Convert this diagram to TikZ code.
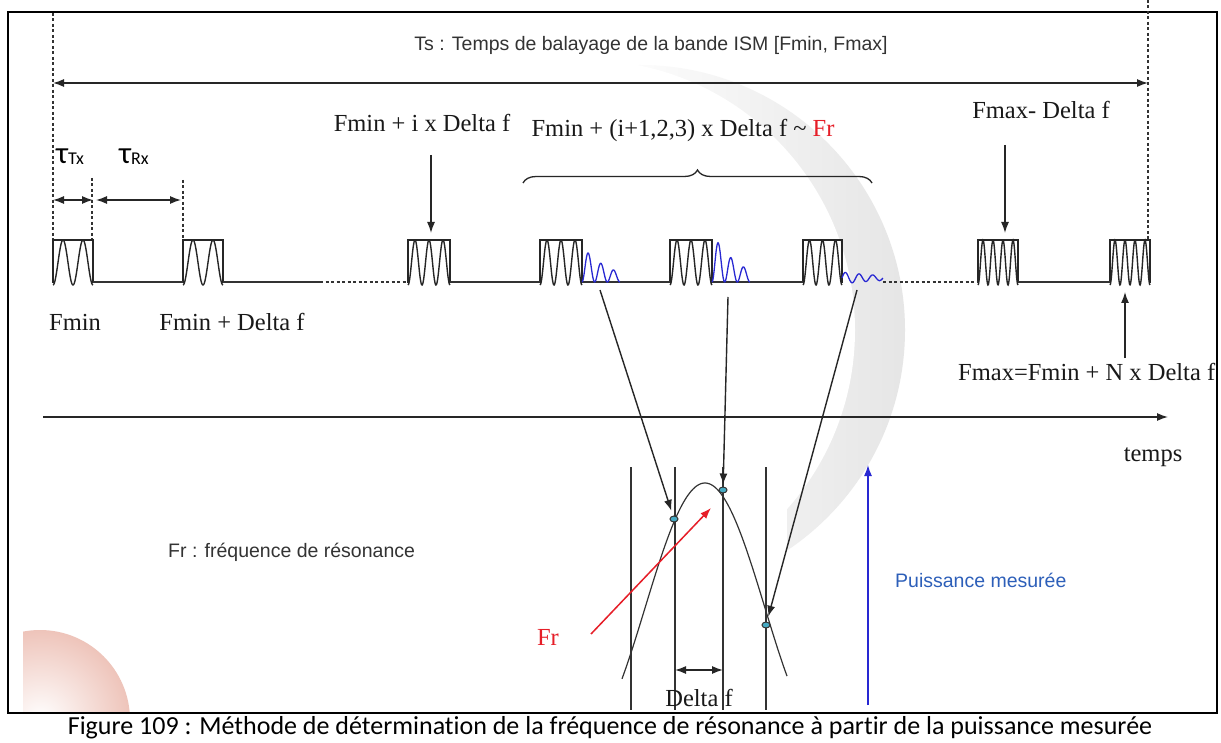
\documentclass[tikz,border=0pt]{standalone}
\usepackage{fontspec}
\setmainfont{Liberation Serif}
\newfontfamily\arialf{Liberation Sans}
\newfontfamily\calib[Ligatures=NoCommon]{Carlito}
\usetikzlibrary{arrows.meta,decorations.pathreplacing,shapes.geometric,calc}
\definecolor{wblue}{RGB}{40,40,210}
\definecolor{lblue}{RGB}{45,95,185}
\definecolor{fred}{RGB}{230,30,40}
\definecolor{dotc}{RGB}{70,170,195}
\definecolor{pinkc}{RGB}{238,196,186}
\newcommand\pulsebox[3]{%
  \draw[pl] (#1,283) -- (#1,240) -- (#2,240) -- (#2,283);
  \draw[pl] plot[domain=0:1,samples=90,smooth] ({#1+(#2-#1)*\x},{285-45*(1-cos(360*#3*\x))/2});
}
\tikzset{
  pl/.style={line width=1.4pt, draw=black!85},
  ln/.style={line width=1.5pt, draw=black!80},
  tip/.style={-{Latex[length=11pt,width=8pt]}},
  arr/.style={line width=1.4pt, draw=black!85, tip},
  darr/.style={line width=1.4pt, draw=black!85, {Latex[length=11pt,width=8pt]}-{Latex[length=11pt,width=8pt]}},
  dsh/.style={line width=1.5pt, draw=black!80, dash pattern=on 3pt off 2.5pt},
  bw/.style={line width=1.3pt, draw=wblue},
  serif/.style={font=\fontsize{24.5}{24.5}\selectfont, inner sep=0pt, text=black!90},
  sans/.style={font=\arialf\fontsize{19.5}{19.5}\selectfont, inner sep=0pt, text=black!80},
  taul/.style={font=\calib\fontsize{31}{31}\selectfont, inner sep=0pt},
  dotn/.style={ellipse, draw=black!80, fill=dotc, minimum width=8pt, minimum height=6pt, inner sep=0pt, line width=1pt},
}
\begin{document}
\begin{tikzpicture}[x=1pt,y=-1pt]
\useasboundingbox (0,0) rectangle (1221,743);
\fill[white] (0,0) rectangle (1221,743);
% faint background watermark
\begin{scope}
  \clip (9,13) rectangle (1216,712);
  \begin{scope}
    \clip (640,330) circle (265);
    \shade[left color=white, right color=black!10] (600,50) rectangle (906,610);
  \end{scope}
  \fill[white] (585,330) circle (270);
  \fill[white] (620,465) rectangle (787,712);
  \clip (23,600) rectangle (200,712);
  \shade[inner color=white, outer color=pinkc] (40,720) circle (90);
\end{scope}
% frame
\draw[line width=2pt] (8,12) rectangle (1217,713);

% sweep limits
\draw[dsh] (53,13) -- (53,240);
\draw[dsh] (1148,0) -- (1148,240);
\coordinate (tsL) at (53,83);
\coordinate (tsR) at (1148,83);
\draw[darr] (tsL) -- (tsR);
\node[sans] (ts) at (651,45) {Ts : Temps de balayage de la bande ISM [Fmin, Fmax]};

% tau
\draw[dsh] (92,178) -- (92,240);
\draw[dsh] (183,180) -- (183,240);
\coordinate (t1a) at (53,200); \coordinate (t1b) at (93,200);
\coordinate (t2a) at (96,200); \coordinate (t2b) at (181,200);
\draw[darr] (t1a) -- (t1b);
\draw[darr] (t2a) -- (t2b);
\node[taul, anchor=west] (tautx) at (56,157) {τ\raisebox{-1pt}{\fontsize{18}{18}\selectfont Tx}};
\node[taul, anchor=west] (taurx) at (119,157) {τ\raisebox{-1pt}{\fontsize{18}{18}\selectfont Rx}};

% pulses
\pulsebox{53}{93}{2}
\pulsebox{183}{223}{2}
\pulsebox{408}{450}{3}
\pulsebox{540}{582}{3}
\pulsebox{670}{712}{3}
\pulsebox{803}{842}{3}
\pulsebox{978}{1018}{4}
\pulsebox{1110}{1150}{4}
% baseline
\draw[ln] (93,282) -- (183,282);
\draw[ln] (223,282) -- (320,282);
\draw[dsh] (320,282) -- (408,282);
\draw[ln] (450,282) -- (540,282);
\draw[ln] (582,282) -- (670,282);
\draw[ln] (712,282) -- (803,282);
\draw[dsh] (883,282) -- (978,282);
\draw[ln] (1018,282) -- (1110,282);
% blue responses
\draw[bw] plot[domain=0:1,samples=90,smooth] ({582+38*\x},{282-36*exp(-1.32*\x)*(1-cos(1080*\x))/2});
\draw[bw] plot[domain=0:1,samples=90,smooth] ({712+38*\x},{282-49.5*exp(-1.43*\x)*(1-cos(1080*\x))/2});
\draw[bw] plot[domain=0:1,samples=90,smooth] ({842+41*\x},{278-6*exp(-0.9*\x)*sin(1080*\x)});

% labels on the time line
\node[serif] (fmin) at (75,322) {Fmin};
\node[serif] (fmindf) at (232,322) {Fmin + Delta f};
\node[serif] (fmini) at (422,123) {Fmin + i x Delta f};
\coordinate (a3s) at (431,155); \coordinate (p3) at (431,233);
\draw[arr] (a3s) -- (p3);
\node[serif] (fmin123) at (683,130) {Fmin + (i+1,2,3) x Delta f \textasciitilde\ \textcolor{fred}{Fr}};
\coordinate (brL) at (523,183); \coordinate (brR) at (872,183);
\draw[line width=1.3pt, black!85, decorate, decoration={brace, amplitude=13pt}] (brL) -- (brR);
\node[serif] (fmaxd) at (1041,110) {Fmax- Delta f};
\coordinate (a7s) at (1005,145); \coordinate (p7) at (1005,233);
\draw[arr] (a7s) -- (p7);
\node[serif, anchor=west] (fmaxn) at (958,372) {Fmax=Fmin + N x Delta f};
\coordinate (a8s) at (1125,358); \coordinate (p8) at (1125,292);
\draw[arr] (a8s) -- (p8);

% time axis
\coordinate (axL) at (43,417); \coordinate (axR) at (1168,417);
\draw[arr] (axL) -- (axR);
\node[serif] (temps) at (1153,457) {temps};

% lower graph
\node[sans, anchor=west] (frdef) at (168,552) {Fr : fréquence de résonance};
\node[sans, anchor=west, text=lblue] (pmes) at (895,580) {Puissance mesurée};
\coordinate (pbB) at (868,705); \coordinate (pbT) at (868,465);
\draw[line width=1.4pt, wblue, tip] (pbB) -- (pbT);

\foreach \vx in {631,675,723,766} \draw[ln] (\vx,467) -- (\vx,710);
\draw[line width=1.2pt, black!80] plot[domain=622:787, samples=120, smooth] (\x, {483+125*(1-cos(1.5*(\x-705)))});
\node[dotn] (d1) at (674,519) {};
\node[dotn] (d2) at (723,490) {};
\node[dotn] (d3) at (766,625) {};
\coordinate (b1) at (600,290);
\coordinate (b2) at (728,297);
\coordinate (b3) at (857,290);
\draw[arr, shorten >=5pt] (b1) -- (d1);
\draw[arr, shorten >=2pt] (b2) -- (d2);
\draw[arr, shorten >=5pt] (b3) -- (d3);
\coordinate (frs) at (591,634); \coordinate (fre) at (711,508);
\draw[line width=1.5pt, fred, tip] (frs) -- (fre);
\node[serif, text=fred] (frlab) at (548,637) {Fr};
\coordinate (dfa) at (675,670); \coordinate (dfb) at (723,670);
\draw[darr] (dfa) -- (dfb);
\node[serif] (dflab) at (699,698) {Delta f};

% caption
\node[font=\calib\fontsize{26}{26}\selectfont, inner sep=0pt] (cap) at (610,728) {Figure 109 : Méthode de détermination de la fréquence de résonance à partir de la puissance mesurée};
\end{tikzpicture}
\end{document}
